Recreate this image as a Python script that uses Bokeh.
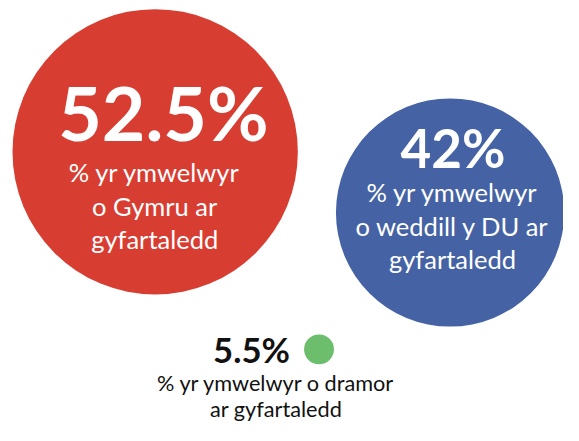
from bokeh.plotting import figure
from bokeh.models import Range1d, ColumnDataSource
from bokeh.core.properties import value
from bokeh.embed import file_html
from bokeh.resources import INLINE

# ---- data ----
groups = ["Cymru", "Gweddill y DU", "Tramor"]
shares = [52.5, 42.0, 5.5]
share_labels = ["52.5%", "42%", "5.5%"]
desc_lines = [
    ["% yr ymwelwyr", "o Gymru ar", "gyfartaledd"],
    ["% yr ymwelwyr", "o weddill y DU ar", "gyfartaledd"],
    ["% yr ymwelwyr o dramor", "ar gyfartaledd"],
]

# ---- layout / style (reference pixel coordinates) ----
colors = ["#d83d32", "#4563a4", "#6dbe6c"]
px_per_pct = 2.82
centers_x = [160.5, 466.5, 330.5]
centers_y = [157, 220, 362]
big_x = [169, 469.5, 260.5]
big_y = [143, 172, 375]
big_size = [78, 55, 36]
big_color = ["white", "white", "#111111"]
desc_x = [160, 469, 286]
desc_y0 = [187, 208, 405]
desc_step = [35, 35, 27]
desc_size = [26.5, 26.5, 22.5]
desc_color = ["white", "white", "#111111"]
baseline_fix = 0.35

W, H = 563, 425
REF_W, REF_H = 579, 441
s = H / REF_H
p = figure(width=W, height=H, output_backend="svg", toolbar_location=None,
           x_range=Range1d(0, W / s), y_range=Range1d(REF_H, 0),
           min_border=0, outline_line_color=None)
p.axis.visible = False
p.grid.visible = False
p.background_fill_color = "white"
p.border_fill_color = "white"

src = ColumnDataSource(dict(x=centers_x, y=centers_y,
                            r=[v * px_per_pct for v in shares], c=colors))
p.circle(x="x", y="y", radius="r", fill_color="c", line_color=None, source=src)

for i in range(len(groups)):
    p.text(x=[big_x[i]], y=[big_y[i] - baseline_fix * big_size[i]],
           text=[share_labels[i]],
           text_font=value("Lato"), text_font_style="bold",
           text_font_size=f"{big_size[i] * s:.1f}px", text_color=big_color[i],
           text_align="center", text_baseline="alphabetic")
    lines = desc_lines[i]
    p.text(x=[desc_x[i]] * len(lines),
           y=[desc_y0[i] + k * desc_step[i] - baseline_fix * desc_size[i]
              for k in range(len(lines))],
           text=lines, text_font=value("Lato"),
           text_font_size=f"{desc_size[i] * s:.1f}px", text_color=desc_color[i],
           text_align="center", text_baseline="alphabetic")

open("out.html", "w").write(file_html(p, INLINE))
